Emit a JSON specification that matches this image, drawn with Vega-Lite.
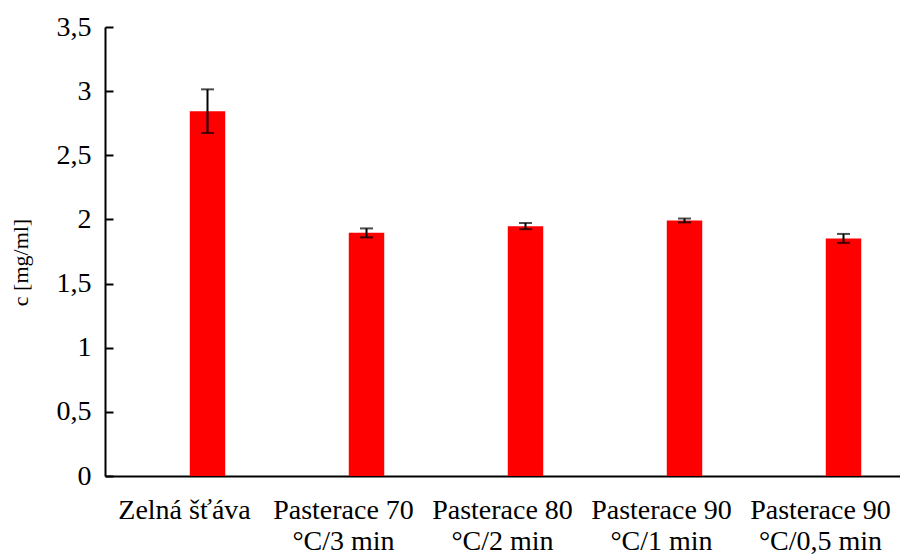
{
  "$schema": "https://vega.github.io/schema/vega-lite/v6.json",
  "width": 795,
  "height": 449,
  "autosize": {"type": "none"},
  "padding": {"left": 105, "top": 27, "right": 0, "bottom": 78},
  "background": "white",
  "data": {
    "values": [
      {"kategorie": "Zelná šťáva", "c": 2.844, "lo": 2.674, "hi": 3.014},
      {"kategorie": "Pasterace 70 °C/3 min", "c": 1.897, "lo": 1.86, "hi": 1.93},
      {"kategorie": "Pasterace 80 °C/2 min", "c": 1.947, "lo": 1.924, "hi": 1.972},
      {"kategorie": "Pasterace 90 °C/1 min", "c": 1.992, "lo": 1.977, "hi": 2.007},
      {"kategorie": "Pasterace 90 °C/0,5 min", "c": 1.852, "lo": 1.817, "hi": 1.887}
    ]
  },
  "config": {
    "font": "Liberation Serif",
    "view": {"stroke": null},
    "style": {"guide-label": {"font": "Liberation Serif"}, "guide-title": {"font": "Liberation Serif"}},
    "axis": {"labelColor": "black", "titleColor": "black", "domainColor": "black", "tickColor": "black", "grid": false, "labelFont": "Liberation Serif", "titleFont": "Liberation Serif"}
  },
  "encoding": {
    "x": {
      "field": "kategorie",
      "type": "nominal",
      "sort": null,
      "scale": {"paddingInner": 0, "paddingOuter": 0},
      "axis": {
        "title": null,
        "labelAngle": 0,
        "ticks": false,
        "domainWidth": 2,
        "labelFont": "Liberation Serif",
        "labelFontSize": 28,
        "labelPadding": 20,
        "labelLimit": 0,
        "labelLineHeight": 31,
        "labelBaseline": "top",
        "labelExpr": "indexof(datum.value, ' °') > 0 ? [substring(datum.value, 0, indexof(datum.value, ' °')), substring(datum.value, indexof(datum.value, ' °') + 1)] : datum.value"
      }
    }
  },
  "layer": [
    {
      "mark": {"type": "bar", "color": "#ff0000", "width": {"band": 0.223}, "xOffset": 23},
      "encoding": {
        "y": {
          "field": "c",
          "type": "quantitative",
          "title": "c [mg/ml]",
          "scale": {"domain": [0, 3.5]},
          "axis": {
            "values": [0, 0.5, 1, 1.5, 2, 2.5, 3, 3.5],
            "labelExpr": "replace(format(datum.value, ''), '.', ',')",
            "domainWidth": 2,
            "tickWidth": 2,
            "tickSize": -8,
            "labelFont": "Liberation Serif",
            "labelFontSize": 28,
            "labelPadding": 22,
            "titleFont": "Liberation Serif",
            "titleFontSize": 22,
            "titleFontWeight": "normal",
            "titlePadding": 24,
            "titleY": 235
          }
        }
      }
    },
    {
      "mark": {"type": "rule", "color": "black", "strokeWidth": 2, "xOffset": 23},
      "encoding": {
        "y": {"field": "lo", "type": "quantitative"},
        "y2": {"field": "hi"}
      }
    },
    {
      "mark": {"type": "tick", "color": "black", "thickness": 2, "size": 13, "xOffset": 23},
      "encoding": {"y": {"field": "lo", "type": "quantitative"}}
    },
    {
      "mark": {"type": "tick", "color": "black", "thickness": 2, "size": 13, "xOffset": 23},
      "encoding": {"y": {"field": "hi", "type": "quantitative"}}
    }
  ]
}
